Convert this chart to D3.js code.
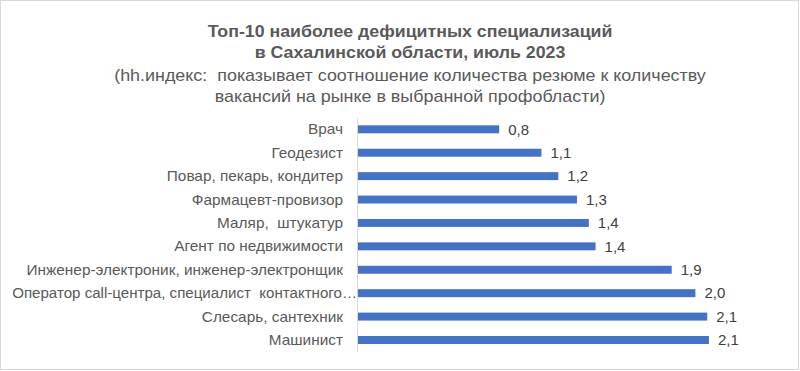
<!DOCTYPE html>
<html>
<head>
<meta charset="utf-8">
<script src="https://cdn.jsdelivr.net/npm/d3@7"></script>
<style>
  body { margin: 0; background: #fff; }
  svg { display: block; font-family: "Liberation Sans", Arial, sans-serif; }
  text { white-space: pre; }
</style>
</head>
<body>
<svg id="chart"></svg>
<script>
// Data
const categories = [
  "Врач",
  "Геодезист",
  "Повар, пекарь, кондитер",
  "Фармацевт-провизор",
  "Маляр,  штукатур",
  "Агент по недвижимости",
  "Инженер-электроник, инженер-электронщик",
  "Оператор call-центра, специалист  контактного…",
  "Слесарь, сантехник",
  "Машинист"
];
const values = [0.84, 1.09, 1.19, 1.30, 1.37, 1.41, 1.86, 2.00, 2.07, 2.08];
const titleLines = [
  "Топ-10 наиболее дефицитных специализаций",
  "в Сахалинской области, июль 2023"
];
const subtitleLines = [
  "(hh.индекс:  показывает соотношение количества резюме к количеству",
  "вакансий на рынке в выбранной профобласти)"
];

const data = categories.map((c, i) => ({ name: c, value: values[i] }));

// Set up SVG dimensions
const width = 800, height = 371;
const margin = { top: 117.6, right: 20, bottom: 19.3, left: 357 };

const svg = d3.select("#chart")
    .attr("width", width)
    .attr("height", height);

// Outer border
svg.append("rect")
    .attr("x", 0.5).attr("y", 0.5)
    .attr("width", 798).attr("height", 369)
    .attr("fill", "#fff")
    .attr("stroke", "#d9d9d9");

// Titles (the source font is a bit wider than Arial, so stretch horizontally)
svg.append("g").selectAll("text")
    .data(titleLines)
    .enter().append("text")
    .attr("transform", (d, i) => "translate(410," + (37 + i * 20.5) + ") scale(1.11,1)")
    .attr("text-anchor", "middle")
    .attr("font-size", "16px")
    .attr("font-weight", "bold")
    .attr("fill", "#595959")
    .text(d => d);

svg.append("g").selectAll("text")
    .data(subtitleLines)
    .enter().append("text")
    .attr("transform", (d, i) => "translate(410," + (80.5 + i * 21) + ") scale(1.12,1)")
    .attr("text-anchor", "middle")
    .attr("font-size", "16px")
    .attr("fill", "#595959")
    .text(d => d);

// Scales
const x = d3.scaleLinear()
    .domain([0, 2.5])
    .range([margin.left, width - margin.right]);

const y = d3.scaleBand()
    .domain(categories)
    .range([margin.top, height - margin.bottom])
    .paddingInner(0.66)
    .paddingOuter(0.33);

// Bars
svg.append("g").selectAll("rect")
    .data(data)
    .enter().append("rect")
    .attr("x", x(0))
    .attr("y", d => y(d.name))
    .attr("width", d => x(d.value) - x(0))
    .attr("height", y.bandwidth())
    .attr("fill", "#4472c4");

// Y axis line
const yAxis = svg.append("g")
    .attr("transform", "translate(" + x(0) + ",0)")
    .call(d3.axisLeft(y).tickSize(0).tickFormat(""));
yAxis.select(".domain").attr("stroke", "#d9d9d9");

// Category labels, stretched a little; a label too long for the margin
// runs up to the axis and is squeezed to fit (like the source)
const labelStretch = 1.06, labelRight = x(0) - 14, labelLeft = 12;
svg.append("g").selectAll("text")
    .data(categories)
    .enter().append("text")
    .attr("text-anchor", "end")
    .attr("font-size", "14.5px")
    .attr("fill", "#595959")
    .attr("dy", "0.35em")
    .text(d => d)
    .each(function(d) {
      const w = this.getComputedTextLength();
      const cy = y(d) + y.bandwidth() / 2;
      let right = labelRight, sx = labelStretch;
      if (w * sx > labelRight - labelLeft) {
        right = x(0);
        sx = (right - labelLeft) / w;
      }
      d3.select(this).attr("transform", "translate(" + right + "," + cy + ") scale(" + sx + ",1)");
    });

// Value labels
const fmt = d => d3.format(".1f")(d).replace(".", ",");
svg.append("g").selectAll("text")
    .data(data)
    .enter().append("text")
    .attr("x", d => x(d.value) + 9)
    .attr("y", d => y(d.name) + y.bandwidth() / 2)
    .attr("dy", "0.35em")
    .attr("font-size", "15px")
    .attr("fill", "#404040")
    .text(d => fmt(d.value));
</script>
</body>
</html>
